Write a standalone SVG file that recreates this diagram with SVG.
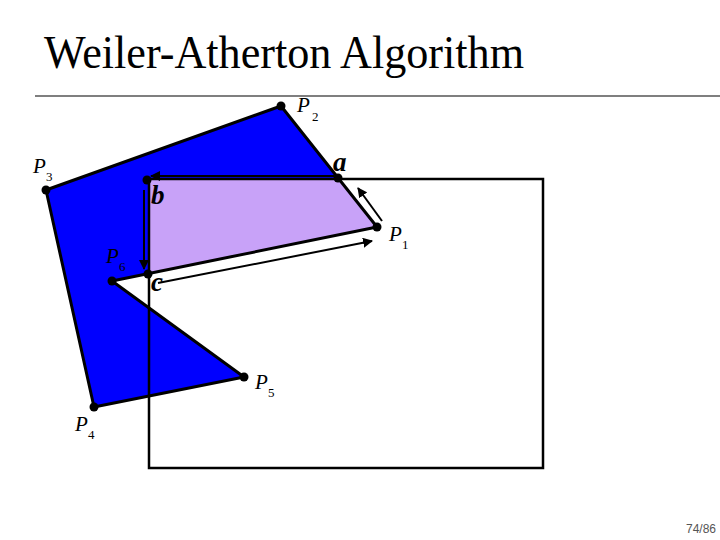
<svg xmlns="http://www.w3.org/2000/svg" width="720" height="540" viewBox="0 0 720 540">
<defs>
<marker id="ah" viewBox="0 0 10 10" refX="9" refY="5" markerWidth="5" markerHeight="5" orient="auto" markerUnits="strokeWidth">
<path d="M0,0 L10,5 L0,10 z" fill="#000"/>
</marker>
<style>
.lbl{font-family:"Liberation Serif","Times New Roman",serif;font-style:italic;font-size:21px;fill:#000}
.sub{font-family:"Liberation Serif","Times New Roman",serif;font-size:13px;fill:#000}
.pt{font-family:"Liberation Serif","Times New Roman",serif;font-style:italic;font-weight:bold;font-size:27px;fill:#000}
.edge{fill:none;stroke:#000;stroke-width:3;stroke-linejoin:round}
.arr{fill:none;stroke:#000;stroke-width:2;marker-end:url(#ah)}
</style>
</defs>
<rect width="720" height="540" fill="#fff"/>
<text x="44" y="68" font-family="Liberation Serif, Times New Roman, serif" font-size="46" textLength="480" lengthAdjust="spacingAndGlyphs" fill="#000">Weiler-Atherton Algorithm</text>
<line x1="35" y1="96" x2="720" y2="96" stroke="#000" stroke-width="1.2"/>

<g id="subject">
<polygon points="377,227 281,106 46,190 94,407 244,377 112,281" fill="#0000FF"/>
</g>
<g id="clipped">
<polygon points="338,178 149,179 149,273.5 377,227" fill="#C8A2F8"/>
</g>
<g id="clipwindow">
<rect x="149" y="179" width="394" height="289" fill="none" stroke="#000" stroke-width="2.5"/>
</g>
<g id="edges">
<polygon class="edge" points="377,227 281,106 46,190 94,407 244,377 112,281"/>
</g>

<g id="connectors">
<line class="arr" x1="334" y1="176" x2="151" y2="176"/>
<line class="arr" x1="144" y1="190" x2="144" y2="269"/>
<line class="arr" x1="158" y1="283" x2="372" y2="241"/>
<line class="arr" x1="382" y1="221" x2="358" y2="188"/>
</g>

<g id="vertices" fill="#000">
<circle cx="281" cy="106" r="4.5"/>
<circle cx="377" cy="227" r="4.5"/>
<circle cx="46" cy="190" r="4.5"/>
<circle cx="94" cy="407" r="4.5"/>
<circle cx="244" cy="377" r="4.5"/>
<circle cx="112" cy="281" r="4.5"/>
<circle cx="338" cy="178" r="4.5"/>
<circle cx="147" cy="180" r="4.5"/>
<circle cx="148" cy="274" r="4.5"/>
</g>

<g id="labels">
<text class="lbl" x="297" y="112">P</text><text class="sub" x="312" y="121">2</text>
<text class="lbl" x="33" y="173">P</text><text class="sub" x="46" y="181">3</text>
<text class="lbl" x="389" y="241">P</text><text class="sub" x="402" y="249">1</text>
<text class="lbl" x="106" y="263">P</text><text class="sub" x="119" y="271">6</text>
<text class="lbl" x="255" y="389">P</text><text class="sub" x="268" y="397">5</text>
<text class="lbl" x="75" y="431">P</text><text class="sub" x="88" y="439">4</text>
<text class="pt" x="333" y="171">a</text>
<text class="pt" x="151" y="204">b</text>
<text class="pt" x="151" y="291">c</text>
</g>

<text x="686" y="533" font-family="Liberation Sans, Arial, sans-serif" font-size="12" fill="#555">74/86</text>
</svg>
